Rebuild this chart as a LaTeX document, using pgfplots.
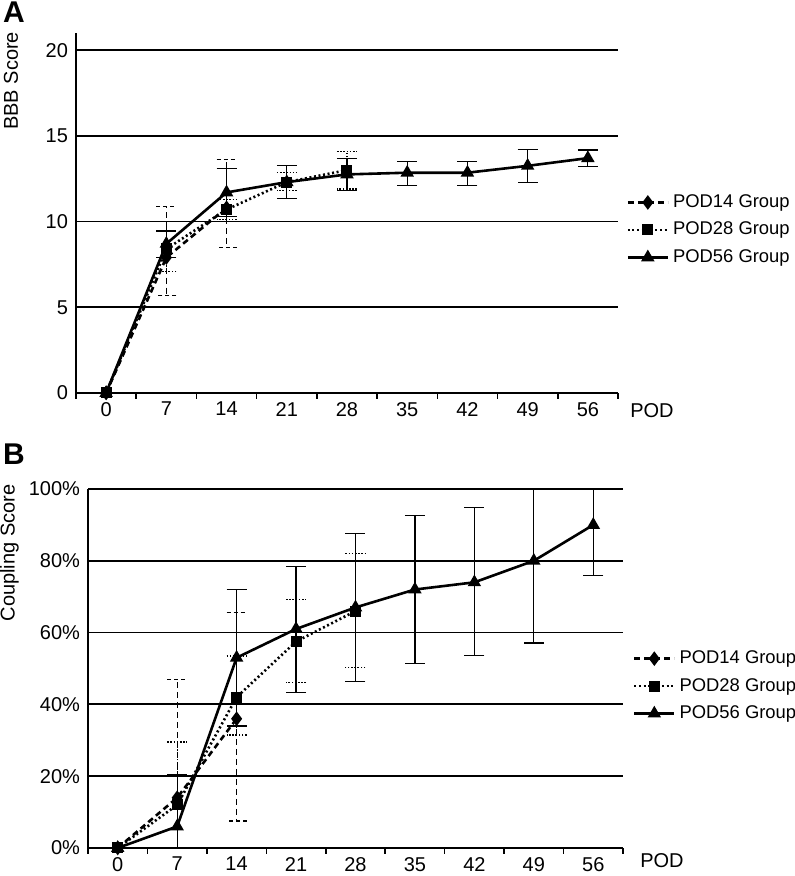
\documentclass[border=0pt]{standalone}
\usepackage{pgfplots}
\pgfplotsset{compat=1.18}
\usepackage{pgfplotstable}
\usepackage{fontspec}
\setmainfont{Liberation Sans}

\pgfplotstableread{
x y ep em
0 0 0 0
1 7.9 3.0 2.2
2 10.8 2.8 2.3
}\AfourteenT
\pgfplotstableread{
x y ep em
0 0 0 0
1 8.4 1.6 1.3
2 10.7 0.6 0.6
3 12.3 0.55 0.5
4 13.0 1.1 1.1
}\AtwentyeightT
\pgfplotstableread{
x y ep em
0 0 0 0
1 8.7 0.75 0.8
2 11.7 1.4 1.4
3 12.3 0.95 0.95
4 12.75 0.95 0.95
5 12.85 0.65 0.75
6 12.85 0.65 0.75
7 13.25 0.95 0.95
8 13.7 0.47 0.47
}\AfiftysixT

\pgfplotstableread{
x y ep em
0 0 0 0
1 14 33 14
2 36 29.5 28.5
}\BfourteenT
\pgfplotstableread{
x y ep em
0 0 0 0
1 12 17.5 12
2 42 11.5 10.5
3 57.5 11.8 11.4
4 66 16 15.8
}\BtwentyeightT
\pgfplotstableread{
x y ep em
0 0 0 0
1 6 14.5 6
2 53 19 19
3 61 17.5 17.6
4 67 20.5 20.7
5 72 20.7 20.7
6 74 20.8 20.4
7 80 20 22.9
8 90 10 14.1
}\BfiftysixT

\pgfplotsset{
  common/.style={
    scale only axis,
    xmin=-0.5, xmax=8.5, ymin=0,
    axis x line=bottom, axis y line=left,
    axis line style={black, line width=0.9pt, -},
    xtick={0,...,8},
    xticklabels={0,7,14,21,28,35,42,49,56},
    minor xtick={-0.5,0.5,...,8.5},
    major tick length=0pt, minor tick length=3pt, tick align=outside,
    tick style={black, line width=0.8pt},
    ymajorgrids, grid style={black, line width=0.9pt},
    tick label style={font=\fontsize{10}{12}\selectfont},
    xticklabel style={yshift=-1pt},
    yticklabel style={xshift=-0.5pt},
    /pgf/number format/assume math mode=true,
    clip=false,
    legend image code/.code={\draw[mark repeat=2,mark phase=2] plot coordinates {(0pt,0pt) (10pt,0pt) (20pt,0pt)};},
    legend style={draw=none, fill=none, font=\fontsize{9.2}{11}\selectfont, inner sep=0pt, row sep=1.8pt, anchor=west},
    legend cell align=left,
  },
  s14/.style={black, line width=1.3pt, dash pattern=on 3pt off 2pt, mark=diamond*, mark size=2.6pt, mark options={solid},
    error bars/.cd, y dir=both, y explicit,
    error bar style={line width=0.6pt, dash pattern=on 3pt off 2pt},
    error mark options={rotate=90, mark size=5pt, line width=0.6pt, dash pattern=on 2pt off 1.5pt}},
  s28/.style={black, line width=1.3pt, dash pattern=on 1pt off 1.3pt, mark=square*, mark size=2.1pt, mark options={solid},
    error bars/.cd, y dir=both, y explicit,
    error bar style={line width=0.6pt, dash pattern=on 0.8pt off 0.8pt},
    error mark options={rotate=90, mark size=5pt, line width=0.6pt, dash pattern=on 0.8pt off 0.8pt}},
  s56/.style={black, line width=1.3pt, solid, mark=triangle*, mark size=2.6pt, mark options={solid},
    error bars/.cd, y dir=both, y explicit,
    error bar style={line width=0.6pt, solid},
    error mark options={rotate=90, mark size=5pt, line width=0.6pt, solid}},
}

\begin{document}
\begin{tikzpicture}
\useasboundingbox (0pt,0pt) rectangle (397pt,438pt);

% Panel A
\begin{axis}[common,
  at={(38pt,241.5pt)}, anchor=south west,
  width=271pt, height=180pt,
  ymax=21, ytick={0,5,10,15,20},
  legend style={at={(1.015,0.453)}},
]
\addplot[s14] table[x=x,y=y,y error plus=ep,y error minus=em]{\AfourteenT};
\addlegendentry{POD14 Group}
\addplot[s28] table[x=x,y=y,y error plus=ep,y error minus=em]{\AtwentyeightT};
\addlegendentry{POD28 Group}
\addplot[s56] table[x=x,y=y,y error plus=ep,y error minus=em]{\AfiftysixT};
\addlegendentry{POD56 Group}
\end{axis}

% Panel B
\begin{axis}[common,
  at={(44pt,14pt)}, anchor=south west,
  width=267.5pt, height=179.5pt,
  ymax=100, ytick={0,20,40,60,80,100},
  yticklabels={0\%,20\%,40\%,60\%,80\%,100\%},
  legend style={at={(1.018,0.451)}},
]
\addplot[s14] table[x=x,y=y,y error plus=ep,y error minus=em]{\BfourteenT};
\addlegendentry{POD14 Group}
\addplot[s28] table[x=x,y=y,y error plus=ep,y error minus=em]{\BtwentyeightT};
\addlegendentry{POD28 Group}
\addplot[s56] table[x=x,y=y,y error plus=ep,y error minus=em]{\BfiftysixT};
\addlegendentry{POD56 Group}
\end{axis}

\node[font=\fontsize{10}{12}\selectfont] at (326pt,232.5pt) {POD};
\node[font=\fontsize{10}{12}\selectfont] at (331pt,7.5pt) {POD};
\node[font=\fontsize{10}{12}\selectfont, rotate=90] at (5.5pt,397.5pt) {BBB Score};
\node[font=\fontsize{10}{12}\selectfont, rotate=90] at (4.75pt,161.5pt) {Coupling Score};
\node[font=\bfseries\fontsize{15}{17}\selectfont] at (7pt,431.75pt) {A};
\node[font=\bfseries\fontsize{15}{17}\selectfont] at (7pt,211pt) {B};
\end{tikzpicture}
\end{document}
